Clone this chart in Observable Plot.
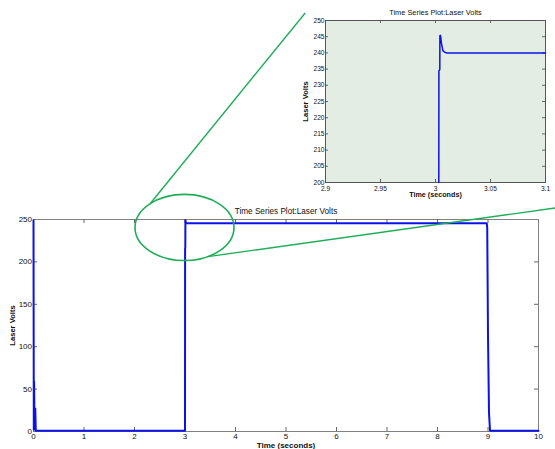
<!DOCTYPE html>
<html><head><meta charset="utf-8">
<script src="https://cdn.jsdelivr.net/npm/d3@7"></script>
<script src="https://cdn.jsdelivr.net/npm/@observablehq/plot@0.6"></script>
<style>
body{margin:0;background:#fff;}
#wrap{position:relative;width:555px;height:449px;overflow:hidden;background:#fff;}
#wrap svg{position:absolute;}
</style>
</head><body><div id="wrap"></div>
<script>
const titleText = "Time Series Plot:Laser Volts";
const xLabel = "Time (seconds)";
const yLabel = "Laser Volts";

const mainXTicks = [0, 1, 2, 3, 4, 5, 6, 7, 8, 9, 10];
const mainYTicks = [0, 50, 100, 150, 200, 250];
const mainTime  = [0, 0.006, 0.012, 0.02, 0.035, 0.045, 0.06, 3.0, 3.002, 3.006, 3.008, 3.02, 8.975, 8.985, 9.0, 9.02, 9.04, 9.05, 10];
const mainVolts = [249, 2, 59, 3, 27, 1, 0.8, 0.8, 216, 216, 249.5, 245.5, 245.5, 240, 113, 22, 1, 0.8, 0.8];

const insetXTicks = [2.9, 2.95, 3, 3.05, 3.1];
const insetYTicks = [200, 205, 210, 215, 220, 225, 230, 235, 240, 245, 250];
const insetTime  = [3.0030, 3.0031, 3.0039, 3.0040, 3.0045, 3.0055, 3.0067, 3.0085, 3.0100, 3.1];
const insetVolts = [200, 234.5, 234.8, 245.3, 245.4, 242.8, 240.7, 240.2, 240.0, 240.0];

// zoom annotation, in main-plot data units
const zoomCenter = [3, 240];
const zoomRadius = [0.98, 39];
const connectorAngles = [-134, 62];
const connectorEnds = [[5.39, 493], [10.34, 263]];

const font = "Liberation Sans, Arial, sans-serif";
const wrap = document.getElementById("wrap");

function innerTicks(xt, yt, w, h, len, stroke) {
  return [
    Plot.ruleX(xt, {insetTop: h - len, stroke}),
    Plot.ruleX(xt, {insetBottom: h - len, stroke}),
    Plot.ruleY(yt, {insetRight: w - len, stroke}),
    Plot.ruleY(yt, {insetLeft: w - len, stroke})
  ];
}
const fmt = d => String(+d.toFixed(3));

// main chart
const mW = 555, mH = 449, mL = 33, mR = 17, mT = 219, mB = 18;
const mainData = mainTime.map((t, i) => ({t, v: mainVolts[i]}));
const main = Plot.plot({
  width: mW, height: mH,
  marginLeft: mL, marginRight: mR, marginTop: mT, marginBottom: mB,
  style: {fontFamily: font, color: "#111", background: "transparent"},
  x: {domain: [0, 10]},
  y: {domain: [0, 250]},
  marks: [
    Plot.frame({stroke: "#808080", strokeWidth: 1}),
    ...innerTicks(mainXTicks.slice(1, -1), mainYTicks.slice(1, -1), mW - mL - mR, mH - mT - mB, 4, "#666"),
    Plot.axisX({ticks: mainXTicks, label: null, tickSize: 0, tickPadding: 2, fontSize: 8, tickFormat: fmt}),
    Plot.axisY({ticks: mainYTicks, label: null, tickSize: 0, tickPadding: 1.5, fontSize: 8, tickFormat: fmt}),
    Plot.line(mainData, {x: "t", y: "v", stroke: "#0a12e8", strokeWidth: 2}),
    Plot.text([titleText], {frameAnchor: "top", dy: -8, lineAnchor: "middle", fontSize: 8.2}),
    Plot.text([xLabel], {frameAnchor: "bottom", dy: 14, lineAnchor: "middle", fontSize: 8, fontWeight: "bold"}),
    Plot.text([yLabel], {frameAnchor: "left", dx: -21, rotate: -90, lineAnchor: "middle", textAnchor: "middle", fontSize: 7.6, fontWeight: "bold"})
  ]
});
main.style.left = "0px"; main.style.top = "0px";
wrap.appendChild(main);

// inset chart
const iW = 275, iH = 200, iL = 45, iR = 10, iT = 20, iB = 18;
const insetData = insetTime.map((t, i) => ({t, v: insetVolts[i]}));
const inset = Plot.plot({
  width: iW, height: iH,
  marginLeft: iL, marginRight: iR, marginTop: iT, marginBottom: iB,
  style: {fontFamily: font, color: "#111", background: "transparent"},
  x: {domain: [2.9, 3.1]},
  y: {domain: [200, 250]},
  marks: [
    Plot.frame({fill: "#e4ede4", stroke: null}),
    ...innerTicks(insetXTicks.slice(1, -1), insetYTicks.slice(1, -1), iW - iL - iR, iH - iT - iB, 3, "#666"),
    Plot.frame({stroke: "#555", strokeWidth: 1}),
    Plot.axisX({ticks: insetXTicks, label: null, tickSize: 0, tickPadding: 3.5, fontSize: 6.6, tickFormat: fmt}),
    Plot.axisY({ticks: insetYTicks, label: null, tickSize: 0, tickPadding: 1, fontSize: 6.6, tickFormat: fmt}),
    Plot.line(insetData, {x: "t", y: "v", stroke: "#0a12e8", strokeWidth: 1.5}),
    Plot.text([titleText], {frameAnchor: "top", dy: -7.5, lineAnchor: "middle", fontSize: 7.4}),
    Plot.text([xLabel], {frameAnchor: "bottom", dy: 12.5, lineAnchor: "middle", fontSize: 7.2, fontWeight: "bold"}),
    Plot.text([yLabel], {frameAnchor: "left", dx: -20, rotate: -90, lineAnchor: "middle", textAnchor: "middle", fontSize: 7.6, fontWeight: "bold"})
  ]
});
inset.style.left = "280px"; inset.style.top = "0px";
wrap.appendChild(inset);

// overlay annotation (ellipse + connectors) from main scales
const xs = main.scale("x"), ys = main.scale("y");
const cx = xs.apply(zoomCenter[0]), cy = ys.apply(zoomCenter[1]);
const rx = xs.apply(zoomCenter[0] + zoomRadius[0]) - cx;
const ry = ys.apply(zoomCenter[1] - zoomRadius[1]) - cy;
const ov = d3.select(wrap).append("svg")
  .attr("width", mW).attr("height", mH)
  .style("left", "0px").style("top", "0px")
  .style("pointer-events", "none");
const green = "#1fae58";
ov.append("ellipse").attr("cx", cx).attr("cy", cy).attr("rx", rx).attr("ry", ry)
  .attr("fill", "none").attr("stroke", green).attr("stroke-width", 1.6);
connectorAngles.forEach((a, i) => {
  const th = a * Math.PI / 180;
  ov.append("line")
    .attr("x1", cx + rx * Math.cos(th)).attr("y1", cy + ry * Math.sin(th))
    .attr("x2", xs.apply(connectorEnds[i][0])).attr("y2", ys.apply(connectorEnds[i][1]))
    .attr("stroke", green).attr("stroke-width", 1.4);
});
</script>
</body></html>
